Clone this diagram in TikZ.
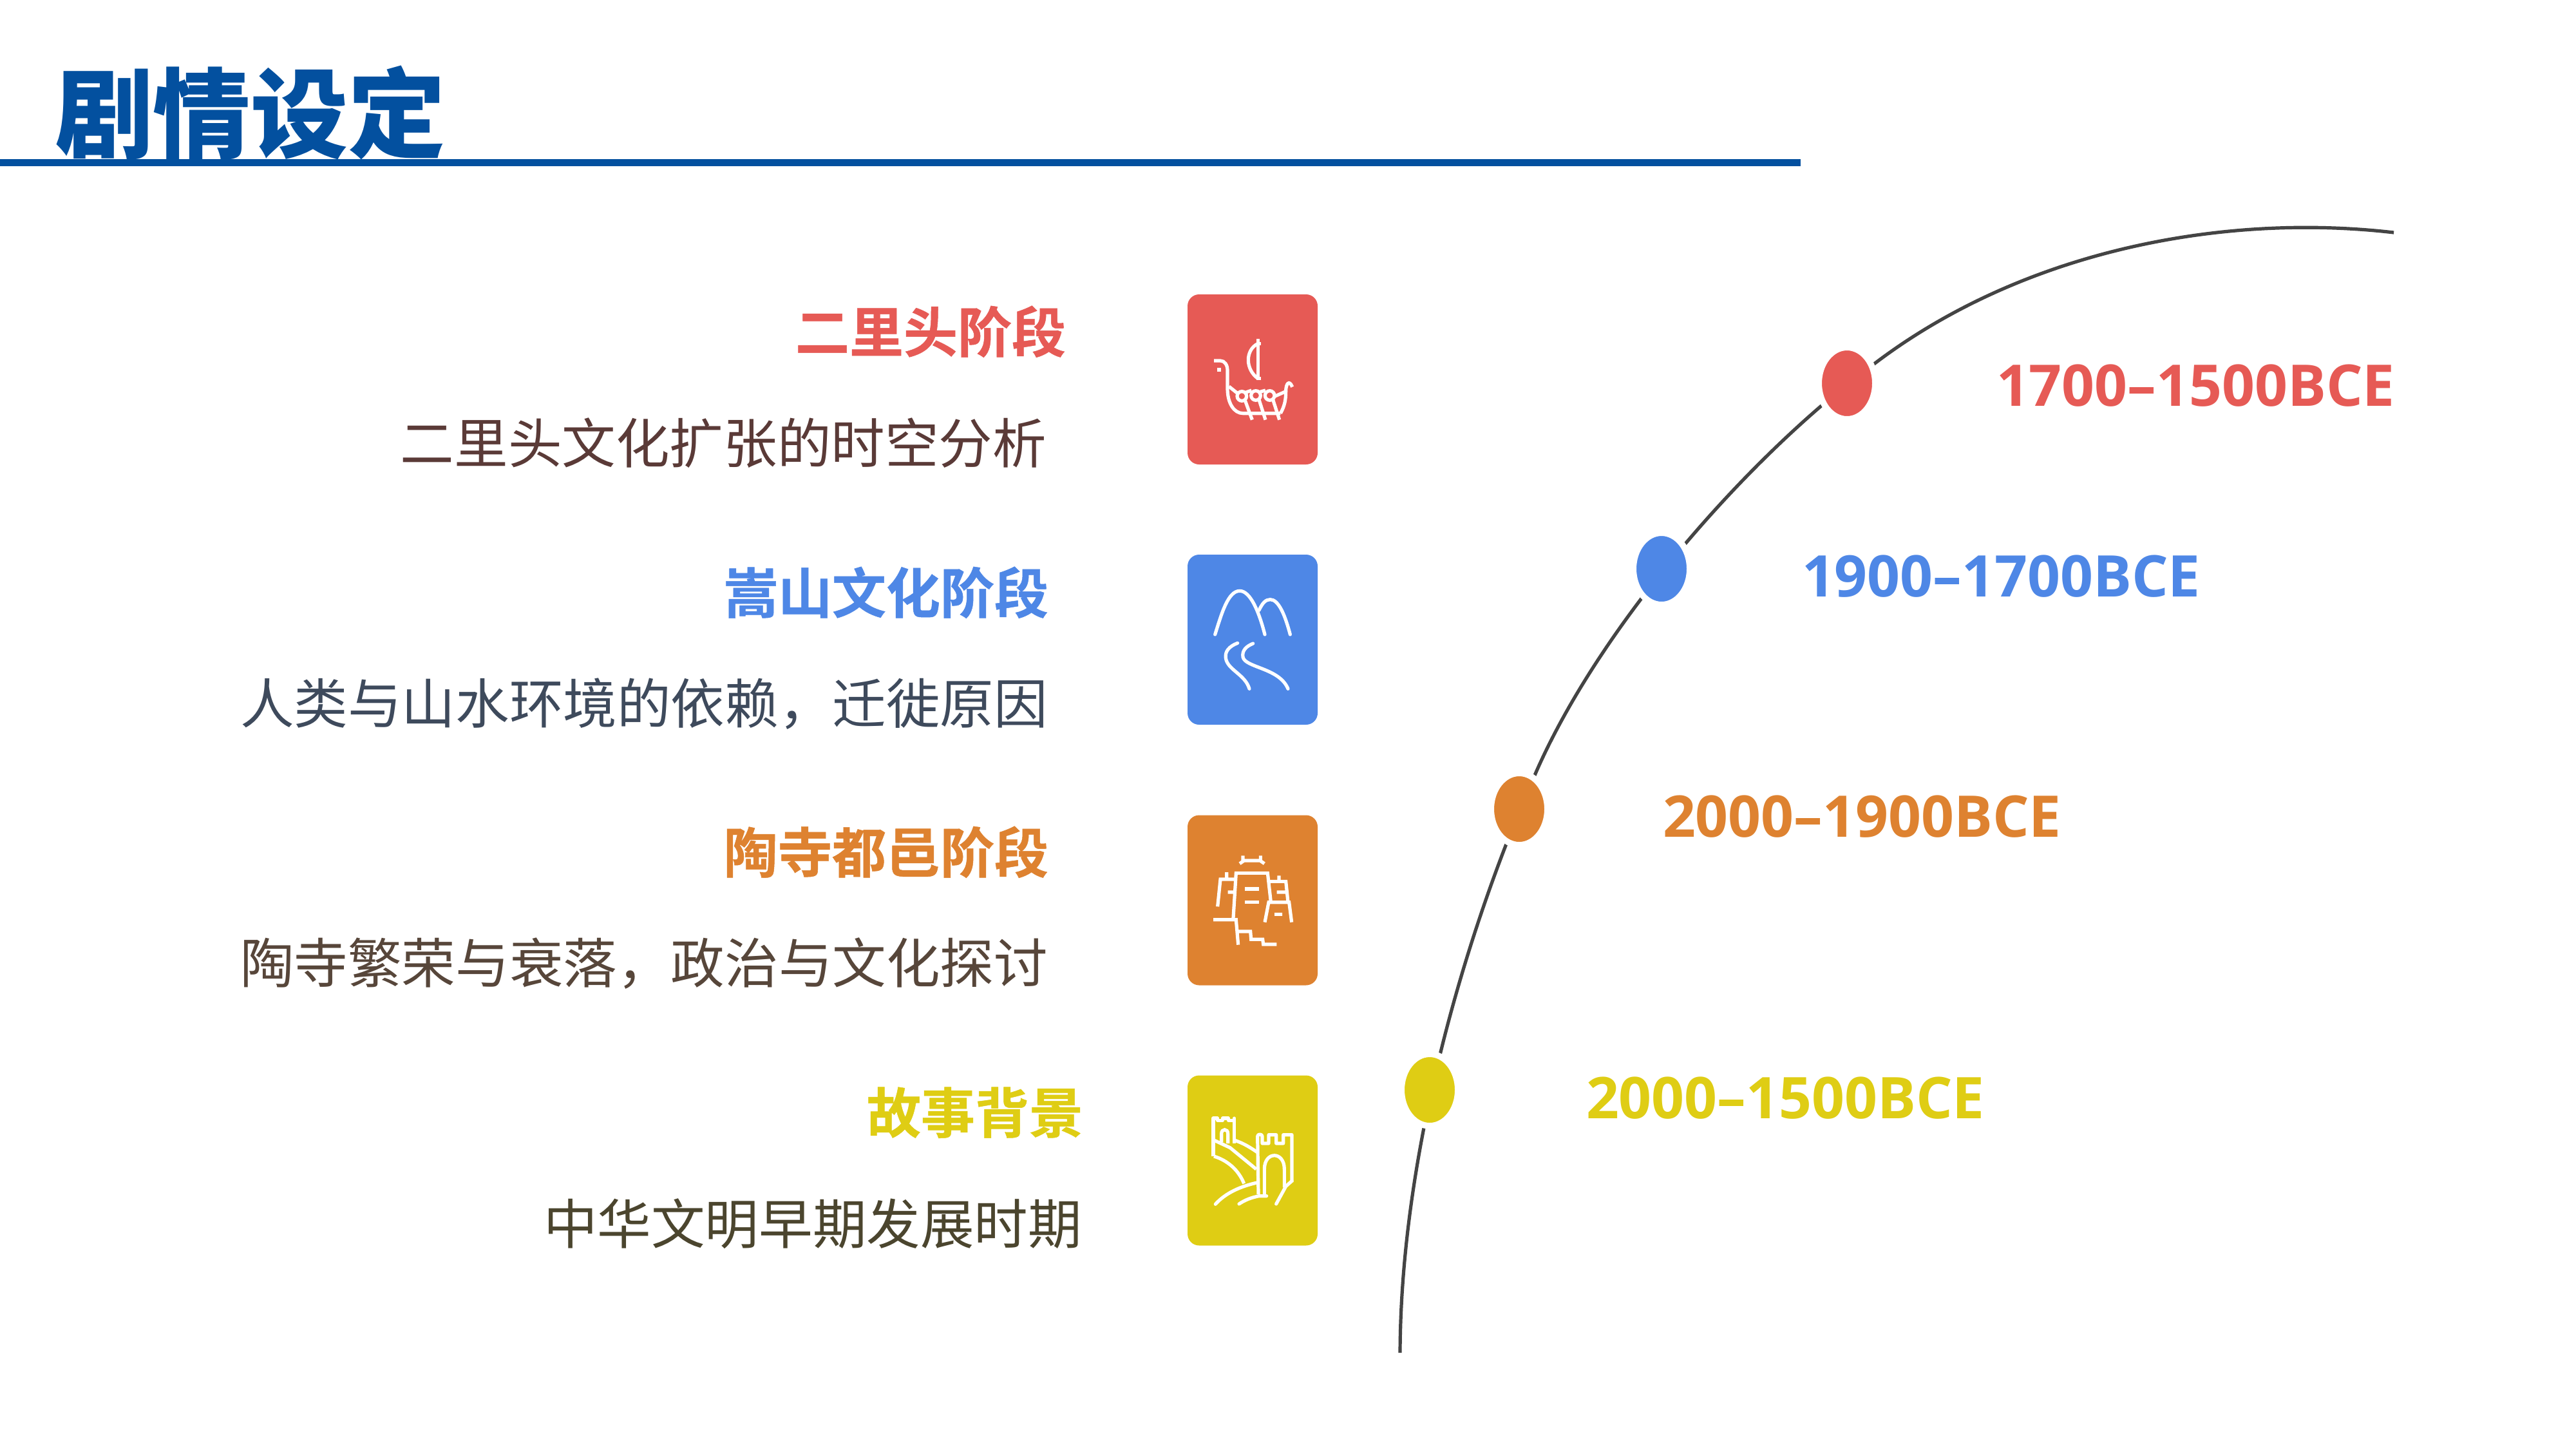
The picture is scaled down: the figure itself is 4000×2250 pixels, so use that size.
\documentclass[tikz,border=0pt]{standalone}
\usepackage{fontspec}
\usetikzlibrary{shapes.geometric}
\setmainfont{Noto Sans CJK SC}
\newfontfamily\cjkreg{Noto Sans CJK SC}
\newfontfamily\cjkbold[FakeBold=0.6]{Noto Sans CJK SC Bold}
\newfontfamily\cjkblack{Noto Sans CJK SC Black}
\newfontfamily\latbold{Open Sans Bold}
\definecolor{cred}{HTML}{E65A55}
\definecolor{cblue}{HTML}{4E87E6}
\definecolor{corange}{HTML}{DE8230}
\definecolor{cyellow}{HTML}{DFCD14}
\definecolor{ctitle}{HTML}{03509F}
\definecolor{carc}{HTML}{444444}
\definecolor{dred}{HTML}{5A3A37}
\definecolor{dblue}{HTML}{3E4A5C}
\definecolor{dorange}{HTML}{57463A}
\definecolor{dyellow}{HTML}{4B452E}
\tikzset{
  head/.style={inner sep=0pt,outer sep=0pt,anchor=base east,font=\cjkbold\fontsize{21}{25}\selectfont},
  desc/.style={inner sep=0pt,outer sep=0pt,anchor=base east,font=\cjkreg\fontsize{20.9}{25}\selectfont},
  era/.style={inner sep=0pt,outer sep=0pt,anchor=base west,font=\latbold\fontsize{22.3}{25}\selectfont},
  iconbox/.style={inner sep=0pt,outer sep=0pt,minimum width=50.5pt,minimum height=66pt,rounded corners=4.5pt},
  dot/.style={ellipse,draw=white,line width=2.4pt,inner sep=0pt,minimum width=21.9pt,minimum height=27.9pt},
  glyph/.style={draw=white,line width=1.3pt,fill=none},
}
\begin{document}
\begin{tikzpicture}[x=0.25pt,y=-0.25pt]
\useasboundingbox (0,0) rectangle (4000,2250);
\fill[white] (0,0) rectangle (4000,2250);
% title
\node[inner sep=0pt,outer sep=0pt,anchor=base west,text=ctitle,font=\cjkblack\fontsize{37.9}{40}\selectfont] (title) at (86,233) {剧情设定};
\coordinate (ruleL) at (0,252.5);
\coordinate (ruleR) at (2796,252.5);
\draw[ctitle,line width=2.75pt] (ruleL) -- (ruleR);
% left text
\node[head,text=cred] (h1) at (1655,547) {二里头阶段};
\node[desc,text=dred] (d1) at (1625,719) {二里头文化扩张的时空分析};
\node[head,text=cblue] (h2) at (1628,952) {嵩山文化阶段};
\node[desc,text=dblue] (d2) at (1627,1123) {人类与山水环境的依赖，迁徙原因};
\node[head,text=corange] (h3) at (1628,1355) {陶寺都邑阶段};
\node[desc,text=dorange] (d3) at (1627,1526) {陶寺繁荣与衰落，政治与文化探讨};
\node[head,text=cyellow] (h4) at (1682,1759) {故事背景};
\node[desc,text=dyellow] (d4) at (1680,1931) {中华文明早期发展时期};
% icon boxes
\node[iconbox,fill=cred] (b1) at (1945,589) {};
\node[iconbox,fill=cblue] (b2) at (1945,993) {};
\node[iconbox,fill=corange] (b3) at (1945,1397.5) {};
\node[iconbox,fill=cyellow] (b4) at (1945,1801.5) {};
% ship
\begin{scope}[shift={(1800,420)},x=0.08333pt,y=-0.08333pt]
\draw[glyph] (475,340) -- (460,340) (460,318) -- (460,510) (475,503) -- (460,503);
\draw[glyph] (460,340) .. controls (400,370) and (400,460) .. (460,503);
\draw[glyph] (255,420) -- (285,420) .. controls (305,420) and (318,440) .. (318,465) -- (318,550) .. controls (318,620) and (350,665) .. (390,665) -- (565,665);
\draw[glyph] (565,665) .. controls (585,630) and (590,600) .. (590,560) .. controls (590,530) and (605,505) .. (620,542);
\fill[white] (270,452) rectangle (288,470);
\draw[glyph] (385,585) circle (22) (450,582) circle (22) (515,582) circle (22);
\draw[glyph] (325,540) -- (365,572) (402,568) -- (430,558) (470,565) -- (495,558) (540,585) -- (585,565);
\draw[glyph] (400,605) -- (433,695) (465,602) -- (495,695) (530,602) -- (560,695);
\end{scope}
% mountains
\begin{scope}[shift={(1800,840)},x=0.08333pt,y=-0.08333pt]
\draw[glyph,line cap=round] (260,435) .. controls (290,340) and (320,232) .. (375,232) .. controls (425,232) and (465,330) .. (492,435);
\draw[glyph,line cap=round] (465,322) .. controls (480,290) and (495,272) .. (517,272) .. controls (555,272) and (585,340) .. (610,435);
\draw[glyph,line cap=round] (365,475) .. controls (325,490) and (305,515) .. (310,545) .. controls (318,600) and (400,620) .. (420,688);
\draw[glyph,line cap=round] (437,477) .. controls (405,490) and (385,510) .. (390,540) .. controls (400,590) and (560,590) .. (600,688);
\end{scope}
% tower
\begin{scope}[shift={(1800,1250)},x=0.08333pt,y=-0.08333pt]
\draw[glyph] (375,272) -- (395,258) -- (470,258) -- (490,272) (390,235) -- (390,258) (472,235) -- (472,258);
\draw[glyph] (345,525) -- (358,316) -- (505,316) -- (520,450);
\draw[glyph] (272,472) -- (285,345) -- (352,345) (314,312) -- (314,345) (320,405) -- (350,405);
\draw[glyph] (512,355) -- (590,355) -- (600,452) (558,328) -- (558,355) (548,405) -- (595,405);
\draw[glyph] (492,545) -- (510,452) -- (605,452) -- (617,545) (537,508) -- (573,508);
\draw[glyph] (400,390) -- (465,390) (400,452) -- (465,452);
\draw[glyph] (252,533) -- (358,533) -- (368,650) (365,588) -- (425,588) -- (428,625) -- (482,625) -- (485,648) -- (547,648);
\end{scope}
% wall
\begin{scope}[shift={(1800,1660)},x=0.08333pt,y=-0.08333pt]
\draw[glyph,line join=round] (252,405) -- (252,228) -- (272,228) -- (272,238) -- (295,238) -- (295,228) -- (322,228) -- (322,238) -- (350,238) -- (350,228) -- (350,345);
\draw[glyph] (255,405) .. controls (320,425) and (370,470) .. (395,532);
\draw[glyph] (255,330) -- (330,365) -- (452,465);
\draw[glyph] (350,330) .. controls (395,345) and (425,365) .. (455,385);
\draw[glyph] (290,340) -- (290,300) .. controls (290,275) and (320,275) .. (320,300) -- (320,345);
\draw[glyph,line join=round] (462,582) -- (458,312) .. controls (458,300) and (480,300) .. (480,312) -- (480,345) -- (510,345) -- (510,305) -- (545,305) -- (545,345) -- (578,345) -- (578,305) -- (618,305) -- (618,525);
\draw[glyph] (490,585) -- (490,465) .. controls (490,380) and (583,380) .. (583,465) -- (583,550);
\draw[glyph,line cap=round] (262,628) .. controls (310,575) and (380,545) .. (455,528);
\draw[glyph,line cap=round] (372,627) .. controls (400,608) and (430,597) .. (465,590) -- (500,590);
\draw[glyph,line cap=round] (545,627) -- (590,545) -- (618,520);
\end{scope}
% arc
\coordinate (arcA) at (2174,2100);
\coordinate (arcM1) at (2382,1206);
\coordinate (arcM2) at (2910,565);
\coordinate (arcB) at (3717,361);
\draw[carc,line width=1.3pt] (arcA) .. controls (2175,1800) and (2270,1460) .. (arcM1) .. controls (2485,965) and (2730,695) .. (arcM2) .. controls (3140,390) and (3450,330) .. (arcB);
% dots
\node[dot,fill=cred] (p1) at (2868,595) {};
\node[dot,fill=cblue] (p2) at (2580,883) {};
\node[dot,fill=corange] (p3) at (2359,1256) {};
\node[dot,fill=cyellow] (p4) at (2220,1692) {};
% era labels
\node[era,text=cred] (e1) at (3100,630) {1700–1500BCE};
\node[era,text=cblue] (e2) at (2798,926) {1900–1700BCE};
\node[era,text=corange] (e3) at (2582,1299) {2000–1900BCE};
\node[era,text=cyellow] (e4) at (2463,1736) {2000–1500BCE};
\end{tikzpicture}
\end{document}
